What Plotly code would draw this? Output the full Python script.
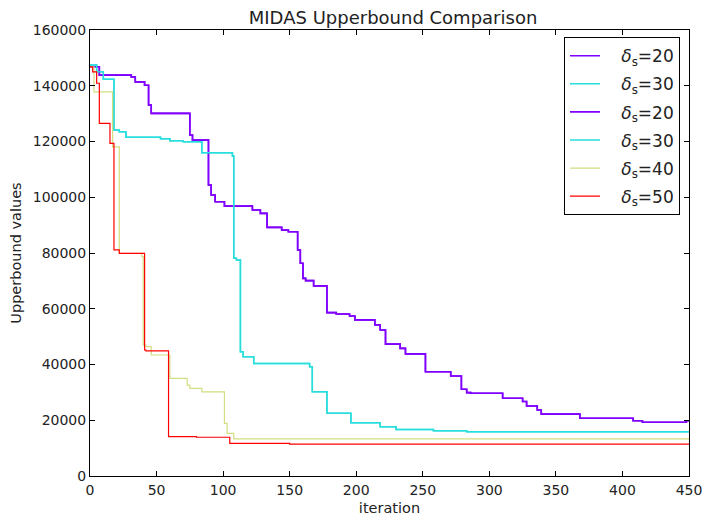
import plotly.graph_objects as go

# Data (step traces, value holds from x onward)
it_d20 = [0, 7, 31, 34, 41, 44, 46, 75, 77, 89, 91, 94, 101, 122, 128, 133, 144, 149, 156, 158, 160, 162, 168,
          178, 185, 195, 199, 214, 218, 222, 233, 237, 252, 271, 279, 283, 286, 310, 325, 328, 336, 339, 368,
          408, 415, 448, 450]
ub_d20 = [146800, 143800, 143200, 141400, 140200, 133100, 130100, 122300, 120500, 104400, 100800, 98400, 96800,
          95400, 94200, 89200, 88200, 87600, 81100, 76300, 70900, 70100, 68200, 58600, 58100, 57400, 56000, 54200,
          52400, 47300, 45800, 43800, 37400, 35900, 31100, 29900, 29700, 27900, 26700, 25100, 23700, 22200, 20700,
          19800, 19300, 19800, 19800]

it_d30 = [0, 5, 10, 18, 22, 27, 53, 60, 70, 84, 107, 108, 110, 113, 115, 123, 165, 167, 178, 196, 218, 230, 258,
          283, 450]
ub_d30 = [147400, 145000, 142300, 124100, 123500, 121500, 121000, 120300, 119900, 116000, 114800, 78100, 77500,
          44600, 42800, 40400, 39200, 30200, 22500, 19100, 17700, 16700, 16200, 15900, 15900]

it_d40 = [0, 3, 17, 22, 39, 40, 42, 46, 60, 73, 75, 84, 101, 103, 108, 450]
ub_d40 = [146800, 137800, 118100, 79900, 78700, 47000, 46400, 43400, 35000, 32600, 31400, 30200, 18900, 15300,
          13300, 13200]

it_d50 = [0, 2, 5, 7, 15, 18, 22, 41, 42, 59, 80, 105, 150, 450]
ub_d50 = [146800, 145000, 140900, 126500, 119300, 81100, 79900, 45200, 44900, 14100, 13900, 11700, 11400, 11400]

series = [
    ("20", it_d20, ub_d20, "#7f00ff", 1.6),
    ("30", it_d30, ub_d30, "#2adddd", 1.5),
    ("20", it_d20, ub_d20, "#7f00ff", 1.6),
    ("30", it_d30, ub_d30, "#2adddd", 1.5),
    ("40", it_d40, ub_d40, "#d4dd80", 1.2),
    ("50", it_d50, ub_d50, "#ff0000", 1.2),
]

x_ticks = [0, 50, 100, 150, 200, 250, 300, 350, 400, 450]
y_ticks = [0, 20000, 40000, 60000, 80000, 100000, 120000, 140000, 160000]

fig = go.Figure()
for i, (val, xs, ys, col, w) in enumerate(series):
    fig.add_trace(go.Scatter(
        x=xs, y=ys, mode="lines", line=dict(color=col, width=w, shape="hv"),
        name="&nbsp;&nbsp;&nbsp;<i>δ</i><sub>s</sub>=" + val,
        legendgroup=f"g{i}",
    ))

axis_common = dict(
    showline=True, linecolor="black", linewidth=1, mirror="ticks",
    ticks="inside", ticklen=5, tickcolor="black", showgrid=False, zeroline=False,
    automargin=False,
    tickfont=dict(family="DejaVu Sans", size=14, color="#222222"),
)

# The page body adds an 8px offset, so the figure is 8px smaller than the window.
fig.update_layout(
    width=702, height=508,
    paper_bgcolor="white", plot_bgcolor="white",
    margin=dict(l=82, r=21, t=22, b=40),
    font=dict(family="DejaVu Sans", color="black"),
    title=dict(text="MIDAS Upperbound Comparison", x=0.5485, xanchor="center",
               yref="container", y=0.981, yanchor="middle",
               font=dict(size=18, family="DejaVu Sans", color="#222222")),
    xaxis=dict(range=[0, 450], tickvals=x_ticks, ticktext=[str(v) for v in x_ticks],
               ticklabelstandoff=1,
               title=dict(text="iteration", font=dict(size=14.5, color="#222222"), standoff=9), **axis_common),
    yaxis=dict(range=[0, 160000], tickvals=y_ticks, ticktext=[str(v) for v in y_ticks],
               title=dict(text="Upperbound values", font=dict(size=14.5, color="#222222"), standoff=8),
               **axis_common),
    legend=dict(x=0.985, xanchor="right", y=0.984, yanchor="top",
                bordercolor="black", borderwidth=1, bgcolor="white",
                font=dict(family="DejaVu Sans", size=17, color="#222222"),
                itemwidth=30, tracegroupgap=3),
)

fig.write_html("out.html")
